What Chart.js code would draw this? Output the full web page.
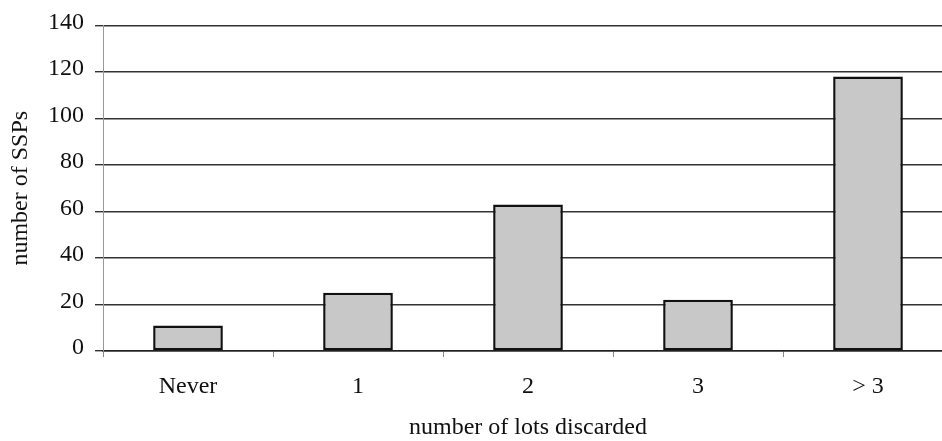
<!DOCTYPE html>
<html>
<head>
<meta charset="utf-8">
<script src="https://cdn.jsdelivr.net/npm/chart.js@4/dist/chart.umd.min.js"></script>
<style>
  html, body { margin: 0; padding: 0; background: #fff; overflow: hidden; }
  #wrap { width: 956px; height: 446px; }
</style>
</head>
<body>
<div id="wrap"><canvas id="lotsChart"></canvas></div>
<script>
    // values
    const categories = ['Never', '1', '2', '3', '> 3'];
    const sspCounts = [11, 25, 63, 22, 118];
    const yTicks = [0, 20, 40, 60, 80, 100, 120, 140];

    const serif = 'Liberation Serif';

    let ctx = document.getElementById('lotsChart').getContext('2d');
    let chart = new Chart(ctx, {
        type: 'bar',
        data: {
            labels: categories,
            datasets: [{
                data: sspCounts,
                backgroundColor: '#c8c8c8',
                borderColor: '#111',
                borderWidth: 2.5,
                borderSkipped: false,
                categoryPercentage: 0.41,
                barPercentage: 1.0
            }]
        },
        options: {
            responsive: true,
            maintainAspectRatio: false,
            animation: false,
            // plot runs a little past the right edge of the window, as in the scan
            layout: { padding: { top: 24, right: 3, left: 0, bottom: 0 } },
            plugins: {
                legend: { display: false },
                tooltip: { enabled: false }
            },
            scales: {
                x: {
                    grid: {
                        offset: true,
                        drawOnChartArea: false,
                        color: '#888',
                        tickLength: 6
                    },
                    border: { color: '#222', width: 1.5 },
                    ticks: {
                        color: '#111',
                        padding: 15,
                        font: { family: serif, size: 24 }
                    },
                    title: {
                        display: true,
                        text: 'number of lots discarded',
                        color: '#111',
                        padding: { top: 16 },
                        font: { family: serif, size: 24 }
                    },
                    afterFit: function (scale) { scale.height = 95; }
                },
                y: {
                    min: 0,
                    max: 140,
                    afterBuildTicks: function (scale) {
                        scale.ticks = yTicks.map(v => ({ value: v }));
                    },
                    grid: {
                        color: '#333',
                        lineWidth: 1.4,
                        tickLength: 8
                    },
                    border: { color: '#999', width: 1 },
                    ticks: {
                        color: '#111',
                        padding: 11,
                        labelOffset: -3,
                        font: { family: serif, size: 24 }
                    },
                    title: {
                        display: true,
                        text: 'number of SSPs',
                        color: '#111',
                        padding: { top: 6, bottom: 4 },
                        font: { family: serif, size: 24 }
                    },
                    afterFit: function (scale) { scale.width = 103; }
                }
            }
        },
        plugins: [{
            id: 'whiteBg',
            beforeDraw: function (c) {
                c.ctx.save();
                c.ctx.fillStyle = '#fff';
                c.ctx.fillRect(0, 0, c.width, c.height);
                c.ctx.restore();
            }
        }]
    });
</script>
</body>
</html>
